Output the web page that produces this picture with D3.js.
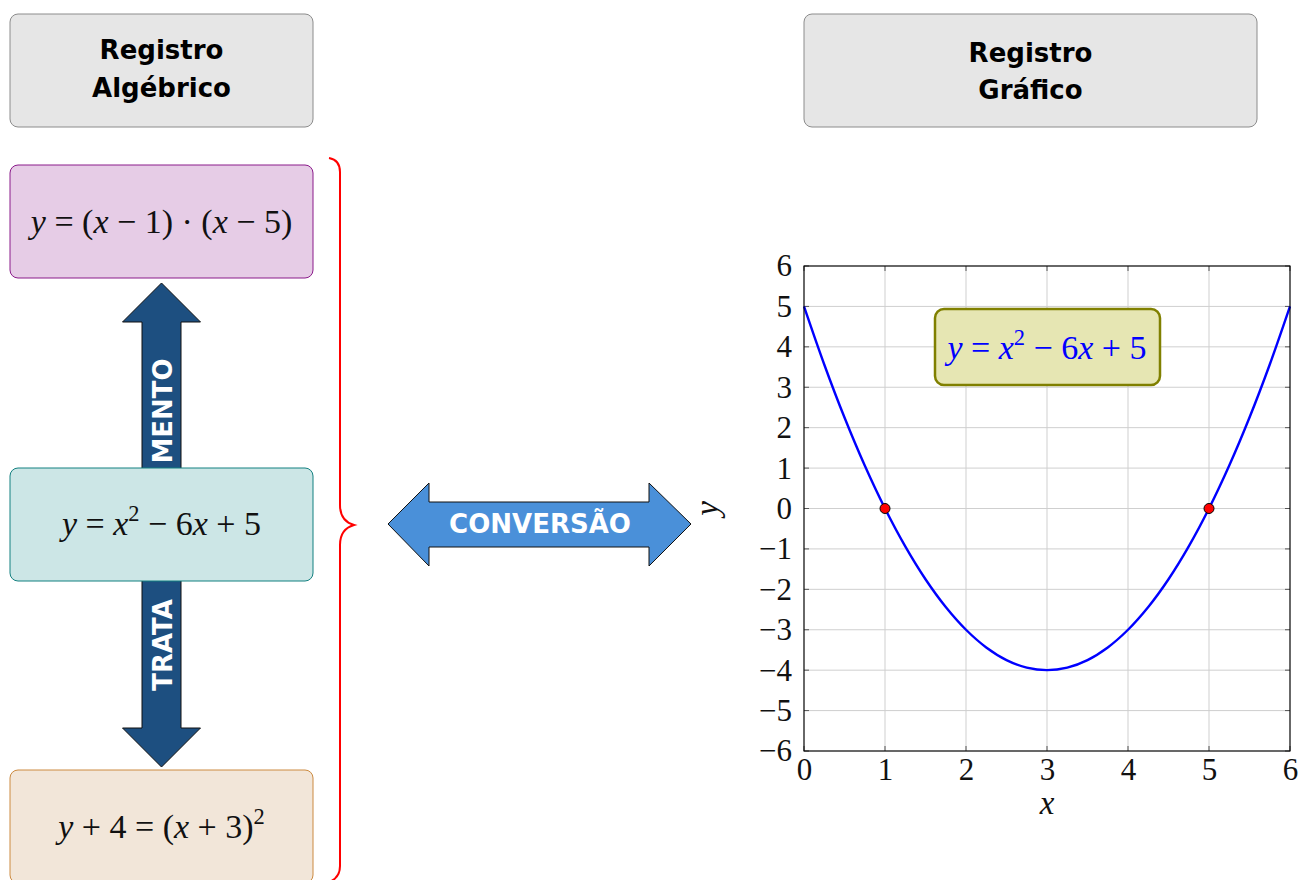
<!DOCTYPE html>
<html><head><meta charset="utf-8">
<script src="https://cdn.jsdelivr.net/npm/d3@7"></script>
<style>html,body{margin:0;padding:0;background:#fff;}svg{display:block;}</style>
</head><body><svg id="c" width="1299" height="880"></svg>
<script>
// ---- data ----
const xTicks = [0, 1, 2, 3, 4, 5, 6];
const yTicks = [-6, -5, -4, -3, -2, -1, 0, 1, 2, 3, 4, 5, 6];
const curveX = [0, 0.25, 0.5, 0.75, 1, 1.25, 1.5, 1.75, 2, 2.25, 2.5, 2.75, 3, 3.25, 3.5, 3.75, 4, 4.25, 4.5, 4.75, 5, 5.25, 5.5, 5.75, 6];
const curveY = [5, 3.5625, 2.25, 1.0625, 0, -0.9375, -1.75, -2.4375, -3, -3.4375, -3.75, -3.9375, -4, -3.9375, -3.75, -3.4375, -3, -2.4375, -1.75, -0.9375, 0, 1.0625, 2.25, 3.5625, 5];
const rootX = [1, 5];
const rootY = [0, 0];
const headerLeft = ["Registro", "Algébrico"];
const headerRight = ["Registro", "Gráfico"];
const arrowUpText = "MENTO";
const arrowDownText = "TRATA";
const convText = "CONVERSÃO";
const xLabel = "x", yLabel = "y";

const svg = d3.select("#c");
const MF = "'Liberation Serif', 'DejaVu Serif', serif";
const BF = "'DejaVu Sans', sans-serif";

function math(sel, x, y, parts, size, color) {
  const t = sel.append("text").attr("x", x).attr("y", y)
    .attr("text-anchor", "middle").attr("fill", color)
    .style("font-family", MF).style("font-size", size + "px").style("white-space", "pre");
  let raised = false;
  parts.forEach(p => {
    const ts = t.append("tspan").text(p[0]);
    if (p[1] === "i") ts.style("font-style", "italic");
    if (p[1] === "sup") { ts.attr("dy", -0.42 * size).style("font-size", (0.66 * size) + "px"); raised = true; }
    else if (raised) { ts.attr("dy", 0.42 * size); raised = false; }
  });
  return t;
}

// ---- headers ----
function header(x, w, lines, ys) {
  svg.append("rect").attr("x", x).attr("y", 14).attr("width", w).attr("height", 113)
    .attr("rx", 8).attr("fill", "#e6e6e6").attr("stroke", "#8c8c8c").attr("stroke-width", 1);
  lines.forEach((l, i) => svg.append("text").attr("x", x + w / 2).attr("y", ys[i])
    .attr("text-anchor", "middle").style("font-family", BF).style("font-weight", "bold")
    .style("font-size", "26px").attr("fill", "#000").text(l));
}
header(10, 303, headerLeft, [59, 97]);
header(804, 453, headerRight, [62, 99]);

// ---- vertical double arrow (behind boxes) ----
const cx = 161.5;
const av = d3.path();
av.moveTo(cx, 283); av.lineTo(cx + 39, 322); av.lineTo(cx + 19.5, 322); av.lineTo(cx + 19.5, 728);
av.lineTo(cx + 39, 728); av.lineTo(cx, 767); av.lineTo(cx - 39, 728); av.lineTo(cx - 19.5, 728);
av.lineTo(cx - 19.5, 322); av.lineTo(cx - 39, 322); av.closePath();
svg.append("path").attr("d", av.toString()).attr("fill", "#1d4f80").attr("stroke", "#111").attr("stroke-width", 1);
function vtext(t, yc) {
  svg.append("text").attr("transform", `translate(${cx + 1},${yc}) rotate(-90)`)
    .attr("text-anchor", "middle").attr("dominant-baseline", "central")
    .style("font-family", BF).style("font-weight", "bold").style("font-size", "26px")
    .attr("fill", "#fff").text(t);
}
vtext(arrowUpText, 411);
vtext(arrowDownText, 645);

// ---- formula boxes ----
function box(y, fill, stroke) {
  svg.append("rect").attr("x", 10).attr("y", y).attr("width", 303).attr("height", 113)
    .attr("rx", 8).attr("fill", fill).attr("stroke", stroke).attr("stroke-width", 1);
}
box(165, "#e6cce6", "#8a1a8a");
box(468, "#cce6e6", "#138080");
box(770, "#f2e6d9", "#cc8a40");
math(svg, cx, 233, [["y", "i"], [" = (", ""], ["x", "i"], [" − 1) · (", ""], ["x", "i"], [" − 5)", ""]], 34, "#111");
math(svg, cx, 535, [["y", "i"], [" = ", ""], ["x", "i"], ["2", "sup"], [" − 6", ""], ["x", "i"], [" + 5", ""]], 34, "#111");
math(svg, cx, 838, [["y", "i"], [" + 4 = (", ""], ["x", "i"], [" + 3)", ""], ["2", "sup"]], 34, "#111");

// ---- brace ----
const br = d3.path();
br.moveTo(329, 158); br.quadraticCurveTo(340, 160, 340, 172);
br.lineTo(340, 505); br.quadraticCurveTo(340, 521, 354, 525);
br.quadraticCurveTo(340, 529, 340, 545);
br.lineTo(340, 866); br.quadraticCurveTo(340, 878, 329, 882);
svg.append("path").attr("d", br.toString()).attr("fill", "none").attr("stroke", "#ff0000").attr("stroke-width", 2);

// ---- horizontal double arrow ----
const ah = d3.path();
ah.moveTo(388, 524); ah.lineTo(429, 483); ah.lineTo(429, 502); ah.lineTo(649, 502); ah.lineTo(649, 483);
ah.lineTo(691, 524); ah.lineTo(649, 566); ah.lineTo(649, 547); ah.lineTo(429, 547); ah.lineTo(429, 566); ah.closePath();
svg.append("path").attr("d", ah.toString()).attr("fill", "#4a90d9").attr("stroke", "#111").attr("stroke-width", 1);
svg.append("text").attr("x", 540).attr("y", 524).attr("text-anchor", "middle").attr("dominant-baseline", "central")
  .style("font-family", BF).style("font-weight", "bold").style("font-size", "26px").attr("fill", "#fff").text(convText);

// ---- graph ----
const X0 = 804, X1 = 1290, Y0 = 751, Y1 = 266;
const x = d3.scaleLinear().domain([0, 6]).range([X0, X1]);
const y = d3.scaleLinear().domain([-6, 6]).range([Y0, Y1]);
const g = svg.append("g");
g.append("rect").attr("x", X0).attr("y", Y1).attr("width", X1 - X0).attr("height", Y0 - Y1).attr("fill", "#fff");
g.selectAll(".gx").data(xTicks).join("line").attr("x1", d => x(d)).attr("x2", d => x(d))
  .attr("y1", Y1).attr("y2", Y0).attr("stroke", "#cfcfcf").attr("stroke-width", 1);
g.selectAll(".gy").data(yTicks).join("line").attr("y1", d => y(d)).attr("y2", d => y(d))
  .attr("x1", X0).attr("x2", X1).attr("stroke", "#cfcfcf").attr("stroke-width", 1);
// inner ticks on all sides
const tk = 5, tc = "#555";
xTicks.forEach(d => {
  g.append("line").attr("x1", x(d)).attr("x2", x(d)).attr("y1", Y0).attr("y2", Y0 - tk).attr("stroke", tc);
  g.append("line").attr("x1", x(d)).attr("x2", x(d)).attr("y1", Y1).attr("y2", Y1 + tk).attr("stroke", tc);
});
yTicks.forEach(d => {
  g.append("line").attr("y1", y(d)).attr("y2", y(d)).attr("x1", X0).attr("x2", X0 + tk).attr("stroke", tc);
  g.append("line").attr("y1", y(d)).attr("y2", y(d)).attr("x1", X1).attr("x2", X1 - tk).attr("stroke", tc);
});
// curve
const line = d3.line().x(d => x(d[0])).y(d => y(d[1])).curve(d3.curveCatmullRom.alpha(0.5));
g.append("path").datum(curveX.map((v, i) => [v, curveY[i]])).attr("d", line)
  .attr("fill", "none").attr("stroke", "#0000ff").attr("stroke-width", 2.4);
// frame
g.append("rect").attr("x", X0).attr("y", Y1).attr("width", X1 - X0).attr("height", Y0 - Y1)
  .attr("fill", "none").attr("stroke", "#000").attr("stroke-width", 1.1);
// roots
g.selectAll(".rt").data(rootX).join("circle").attr("cx", d => x(d)).attr("cy", (d, i) => y(rootY[i]))
  .attr("r", 5).attr("fill", "#ff0000").attr("stroke", "#000").attr("stroke-width", 1);
// axes labels
const ax = g.append("g").attr("transform", `translate(0,${Y0})`)
  .call(d3.axisBottom(x).tickValues(xTicks).tickFormat(d3.format("d")).tickSize(0).tickPadding(7));
const ay = g.append("g").attr("transform", `translate(${X0},0)`)
  .call(d3.axisLeft(y).tickValues(yTicks).tickFormat(d3.format("d")).tickSize(0).tickPadding(12));
[ax, ay].forEach(a => {
  a.select(".domain").remove();
  a.selectAll("text").style("font-family", MF).style("font-size", "31px").attr("fill", "#111");
});
g.append("text").attr("x", x(3)).attr("y", 814).attr("text-anchor", "middle")
  .style("font-family", MF).style("font-style", "italic").style("font-size", "33px").attr("fill", "#111").text(xLabel);
g.append("text").attr("transform", `translate(718,${y(0)}) rotate(-90)`).attr("text-anchor", "middle")
  .style("font-family", MF).style("font-style", "italic").style("font-size", "33px").attr("fill", "#111").text(yLabel);
// legend
g.append("rect").attr("x", 935).attr("y", 309).attr("width", 225).attr("height", 76).attr("rx", 9)
  .attr("fill", "#e6e6b3").attr("stroke", "#808000").attr("stroke-width", 2.5);
math(g, 1047, 359, [["y", "i"], [" = ", ""], ["x", "i"], ["2", "sup"], [" − 6", ""], ["x", "i"], [" + 5", ""]], 34, "#0000ff");
</script></body></html>
